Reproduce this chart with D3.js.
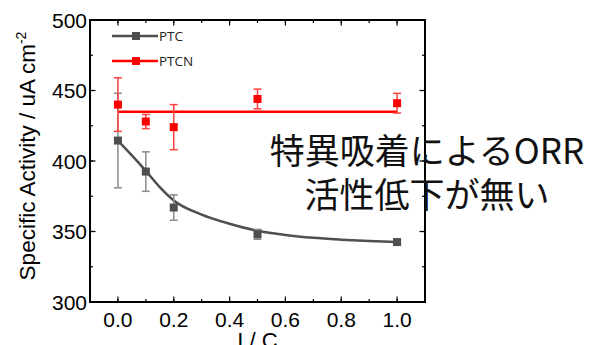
<!DOCTYPE html>
<html>
<head>
<meta charset="utf-8">
<script src="https://cdn.jsdelivr.net/npm/d3@7"></script>
<style>
  body { margin: 0; background: #fff; }
  svg { display: block; font-family: "Liberation Sans", Arial, sans-serif; }
</style>
</head>
<body>
<svg id="chart" width="589" height="345"></svg>
<script>
// I/C ratios
var ratios = [0.0, 0.1, 0.2, 0.5, 1.0];
var ptcValues = [414.5, 392.5, 367, 348, 342.5];
var ptcErrors = [33.5, 14, 9, 3.5, 2];
var ptcnValues = [440, 428, 424, 444, 441];
var ptcnErrors = [19, 5, 16, 7, 7];
// fitted curve
var ptcFitX = [0.0, 0.05, 0.1, 0.15, 0.2, 0.3, 0.4, 0.5, 0.6, 0.7, 0.8, 0.9, 1.0];
var ptcFitY = [414.5, 404, 393, 381.5, 372, 362, 355.5, 350.5, 347.5, 345.5, 344.2, 343.2, 342.5];
var ptcnLevel = 435;
var xTicks = [0.0, 0.2, 0.4, 0.6, 0.8, 1.0];
var yTicks = [300, 350, 400, 450, 500];
var seriesNames = ['PTC', 'PTCN'];
var noteLines = ['特異吸着によるORR', '活性低下が無い'];

(function () {
var svg = d3.select('#chart');
var pL = 90, pR = 425, pT = 20, pB = 302;

var x = d3.scaleLinear().domain([-0.1, 1.1]).range([pL, pR]);
var y = d3.scaleLinear().domain([300, 500]).range([pB, pT]);

var gray = '#4f4f4f', grayErr = '#8c8c8c';
var red = '#ff0000', redErr = '#ff4040';

// minor ticks every 0.1 / 25
var xMinor = d3.range(-0.1, 1.1001, 0.1).map(function(d){ return +d.toFixed(1); });
var yMinor = d3.range(300, 501, 25);

var axes = svg.append('g');
function tickMarks(g, vals, scale, orient, len) {
    vals.forEach(function(v){
        var p = scale(v);
        if (orient === 'bottom') g.append('line').attr('x1', p).attr('x2', p).attr('y1', pB).attr('y2', pB - len);
        if (orient === 'top') g.append('line').attr('x1', p).attr('x2', p).attr('y1', pT).attr('y2', pT + len);
        if (orient === 'left') g.append('line').attr('y1', p).attr('y2', p).attr('x1', pL).attr('x2', pL + len);
        if (orient === 'right') g.append('line').attr('y1', p).attr('y2', p).attr('x1', pR).attr('x2', pR - len);
    });
}
var tg = axes.append('g').attr('stroke', '#000').attr('stroke-width', 1.2);
tickMarks(tg, xMinor, x, 'bottom', 3);
tickMarks(tg, xMinor, x, 'top', 3);
tickMarks(tg, yMinor, y, 'left', 3);
tickMarks(tg, yMinor, y, 'right', 3);
tickMarks(tg, xTicks, x, 'bottom', 5.5);
tickMarks(tg, xTicks, x, 'top', 5.5);
tickMarks(tg, yTicks, y, 'left', 5.5);
tickMarks(tg, yTicks, y, 'right', 5.5);

axes.append('rect')
    .attr('x', pL).attr('y', pT)
    .attr('width', pR - pL).attr('height', pB - pT)
    .attr('fill', 'none').attr('stroke', '#000').attr('stroke-width', 2);

// tick labels
axes.selectAll('.xl').data(xTicks).enter().append('text')
    .attr('x', function(d){ return x(d); })
    .attr('y', 327)
    .attr('text-anchor', 'middle')
    .attr('font-size', 21)
    .text(function(d){ return d.toFixed(1); });
axes.selectAll('.yl').data(yTicks).enter().append('text')
    .attr('x', pL - 3)
    .attr('y', function(d){ return y(d) + 7.5; })
    .attr('text-anchor', 'end')
    .attr('font-size', 21)
    .text(function(d){ return d; });

// axis titles
var yt = svg.append('text')
    .attr('transform', 'translate(35,' + ((pT + pB) / 2 - 5) + ') rotate(-90)')
    .attr('text-anchor', 'middle')
    .attr('font-size', 22.5);
yt.append('tspan').text('Specific Activity / uA cm');
yt.append('tspan').attr('font-size', 14).attr('dy', -9).text('-2');

svg.append('text')
    .attr('x', x(0.5)).attr('y', 348)
    .attr('text-anchor', 'middle')
    .attr('font-size', 22)
    .text('I / C');

// PTCN level line
svg.append('line')
    .attr('x1', x(0)).attr('x2', x(1))
    .attr('y1', y(ptcnLevel)).attr('y2', y(ptcnLevel))
    .attr('stroke', red).attr('stroke-width', 2.5);

// PTC fit curve
var fitPts = ptcFitX.map(function(d, i){ return [d, ptcFitY[i]]; });
svg.append('path')
    .datum(fitPts)
    .attr('d', d3.line().x(function(d){ return x(d[0]); }).y(function(d){ return y(d[1]); }).curve(d3.curveMonotoneX))
    .attr('fill', 'none').attr('stroke', gray).attr('stroke-width', 2.5);

function drawSeries(vals, errs, color, errColor) {
    var g = svg.append('g');
    ratios.forEach(function(r, i){
        var cx = x(r), hi = y(vals[i] + errs[i]), lo = y(vals[i] - errs[i]);
        g.append('line').attr('x1', cx).attr('x2', cx).attr('y1', hi).attr('y2', lo)
            .attr('stroke', errColor).attr('stroke-width', 1.5);
        [hi, lo].forEach(function(yy){
            g.append('line').attr('x1', cx - 4).attr('x2', cx + 4).attr('y1', yy).attr('y2', yy)
                .attr('stroke', errColor).attr('stroke-width', 1.5);
        });
        g.append('rect').attr('x', cx - 4).attr('y', y(vals[i]) - 4)
            .attr('width', 8).attr('height', 8).attr('fill', color);
    });
}
drawSeries(ptcValues, ptcErrors, gray, grayErr);
drawSeries(ptcnValues, ptcnErrors, red, redErr);

// legend
var legendColors = [gray, red];
seriesNames.forEach(function(name, i){
    var ly = 36 + i * 25;
    svg.append('line').attr('x1', 112).attr('x2', 158).attr('y1', ly).attr('y2', ly)
        .attr('stroke', legendColors[i]).attr('stroke-width', 2.5);
    svg.append('rect').attr('x', 132).attr('y', ly - 4).attr('width', 8).attr('height', 8)
        .attr('fill', legendColors[i]);
    svg.append('text').attr('x', 159).attr('y', ly + 5)
        .attr('font-family', '"Open Sans", "Noto Sans", sans-serif')
        .attr('font-size', 13.5).attr('fill', '#222').text(name);
});

// annotation
svg.selectAll('.note').data(noteLines).enter().append('text')
    .attr('x', 427)
    .attr('y', function(d, i){ return 164 + i * 44; })
    .attr('text-anchor', 'middle')
    .attr('font-family', '"Noto Sans CJK JP", sans-serif')
    .attr('font-size', 35)
    .attr('fill', '#111')
    .text(function(d){ return d; });
})();
</script>
</body>
</html>
